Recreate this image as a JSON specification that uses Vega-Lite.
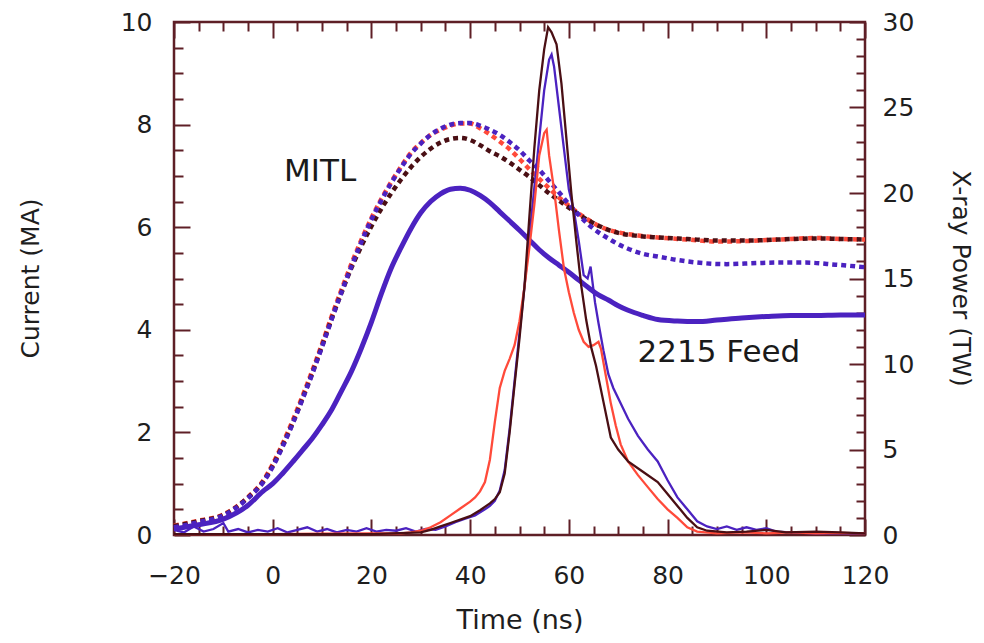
{
  "$schema": "https://vega.github.io/schema/vega-lite/v6.json",
  "width": 691,
  "height": 513,
  "autosize": "none",
  "padding": {"left": 174, "top": 22, "right": 119, "bottom": 108},
  "background": "white",
  "config": {
    "view": {"stroke": "#5e1f26", "strokeWidth": 2.5},
    "font": "DejaVu Sans",
    "axis": {"grid": false, "domain": false, "tickColor": "#5e1f26", "tickWidth": 2, "labelColor": "#1e1e1e", "titleColor": "#1e1e1e", "labelFont": "DejaVu Sans", "titleFont": "DejaVu Sans", "labelFontSize": 25, "titleFontSize": 25, "titleFontWeight": "normal", "labelFlush": false, "labelOverlap": false}
  },
  "datasets": {
    "cur": [
      {"series":"MITL shot 1","t":-20,"I":0.18},{"series":"MITL shot 1","t":-15,"I":0.28},{"series":"MITL shot 1","t":-10,"I":0.40},{"series":"MITL shot 1","t":-5,"I":0.74},{"series":"MITL shot 1","t":-2,"I":1.05},{"series":"MITL shot 1","t":0,"I":1.38},{"series":"MITL shot 1","t":2,"I":1.78},{"series":"MITL shot 1","t":4,"I":2.22},{"series":"MITL shot 1","t":6,"I":2.70},{"series":"MITL shot 1","t":8,"I":3.20},{"series":"MITL shot 1","t":10,"I":3.73},{"series":"MITL shot 1","t":12,"I":4.28},{"series":"MITL shot 1","t":14,"I":4.80},{"series":"MITL shot 1","t":16,"I":5.30},{"series":"MITL shot 1","t":18,"I":5.76},{"series":"MITL shot 1","t":20,"I":6.18},{"series":"MITL shot 1","t":22,"I":6.55},{"series":"MITL shot 1","t":24,"I":6.88},{"series":"MITL shot 1","t":26,"I":7.18},{"series":"MITL shot 1","t":28,"I":7.45},{"series":"MITL shot 1","t":30,"I":7.64},{"series":"MITL shot 1","t":32,"I":7.80},{"series":"MITL shot 1","t":34,"I":7.90},{"series":"MITL shot 1","t":36,"I":7.98},{"series":"MITL shot 1","t":38,"I":8.02},{"series":"MITL shot 1","t":40,"I":8.02},{"series":"MITL shot 1","t":42,"I":7.93},{"series":"MITL shot 1","t":44,"I":7.81},{"series":"MITL shot 1","t":46,"I":7.67},{"series":"MITL shot 1","t":48,"I":7.52},{"series":"MITL shot 1","t":50,"I":7.33},{"series":"MITL shot 1","t":52,"I":7.13},{"series":"MITL shot 1","t":54,"I":6.94},{"series":"MITL shot 1","t":56,"I":6.76},{"series":"MITL shot 1","t":58,"I":6.58},{"series":"MITL shot 1","t":60,"I":6.42},{"series":"MITL shot 1","t":62,"I":6.27},{"series":"MITL shot 1","t":64,"I":6.14},{"series":"MITL shot 1","t":66,"I":6.03},{"series":"MITL shot 1","t":68,"I":5.95},{"series":"MITL shot 1","t":70,"I":5.90},{"series":"MITL shot 1","t":74,"I":5.84},{"series":"MITL shot 1","t":78,"I":5.80},{"series":"MITL shot 1","t":84,"I":5.76},{"series":"MITL shot 1","t":90,"I":5.72},{"series":"MITL shot 1","t":96,"I":5.73},{"series":"MITL shot 1","t":100,"I":5.75},{"series":"MITL shot 1","t":105,"I":5.77},{"series":"MITL shot 1","t":110,"I":5.79},{"series":"MITL shot 1","t":115,"I":5.77},{"series":"MITL shot 1","t":120,"I":5.76},
      {"series":"MITL shot 3","t":-20,"I":0.17},{"series":"MITL shot 3","t":-15,"I":0.27},{"series":"MITL shot 3","t":-10,"I":0.39},{"series":"MITL shot 3","t":-5,"I":0.73},{"series":"MITL shot 3","t":-2,"I":1.03},{"series":"MITL shot 3","t":0,"I":1.35},{"series":"MITL shot 3","t":2,"I":1.74},{"series":"MITL shot 3","t":4,"I":2.17},{"series":"MITL shot 3","t":6,"I":2.65},{"series":"MITL shot 3","t":8,"I":3.15},{"series":"MITL shot 3","t":10,"I":3.68},{"series":"MITL shot 3","t":12,"I":4.23},{"series":"MITL shot 3","t":14,"I":4.74},{"series":"MITL shot 3","t":16,"I":5.22},{"series":"MITL shot 3","t":18,"I":5.64},{"series":"MITL shot 3","t":20,"I":6.02},{"series":"MITL shot 3","t":22,"I":6.36},{"series":"MITL shot 3","t":24,"I":6.66},{"series":"MITL shot 3","t":26,"I":6.93},{"series":"MITL shot 3","t":28,"I":7.17},{"series":"MITL shot 3","t":30,"I":7.37},{"series":"MITL shot 3","t":32,"I":7.53},{"series":"MITL shot 3","t":34,"I":7.65},{"series":"MITL shot 3","t":36,"I":7.72},{"series":"MITL shot 3","t":38,"I":7.74},{"series":"MITL shot 3","t":40,"I":7.70},{"series":"MITL shot 3","t":42,"I":7.60},{"series":"MITL shot 3","t":44,"I":7.48},{"series":"MITL shot 3","t":46,"I":7.38},{"series":"MITL shot 3","t":48,"I":7.26},{"series":"MITL shot 3","t":50,"I":7.12},{"series":"MITL shot 3","t":52,"I":6.98},{"series":"MITL shot 3","t":54,"I":6.82},{"series":"MITL shot 3","t":56,"I":6.66},{"series":"MITL shot 3","t":58,"I":6.52},{"series":"MITL shot 3","t":60,"I":6.38},{"series":"MITL shot 3","t":62,"I":6.25},{"series":"MITL shot 3","t":64,"I":6.13},{"series":"MITL shot 3","t":66,"I":6.03},{"series":"MITL shot 3","t":68,"I":5.95},{"series":"MITL shot 3","t":70,"I":5.89},{"series":"MITL shot 3","t":74,"I":5.83},{"series":"MITL shot 3","t":78,"I":5.80},{"series":"MITL shot 3","t":84,"I":5.77},{"series":"MITL shot 3","t":90,"I":5.74},{"series":"MITL shot 3","t":96,"I":5.74},{"series":"MITL shot 3","t":100,"I":5.75},{"series":"MITL shot 3","t":105,"I":5.77},{"series":"MITL shot 3","t":110,"I":5.78},{"series":"MITL shot 3","t":115,"I":5.77},{"series":"MITL shot 3","t":120,"I":5.76},
      {"series":"MITL shot 2","t":-20,"I":0.15},{"series":"MITL shot 2","t":-15,"I":0.25},{"series":"MITL shot 2","t":-10,"I":0.38},{"series":"MITL shot 2","t":-5,"I":0.72},{"series":"MITL shot 2","t":-2,"I":1.02},{"series":"MITL shot 2","t":0,"I":1.33},{"series":"MITL shot 2","t":2,"I":1.72},{"series":"MITL shot 2","t":4,"I":2.16},{"series":"MITL shot 2","t":6,"I":2.64},{"series":"MITL shot 2","t":8,"I":3.14},{"series":"MITL shot 2","t":10,"I":3.67},{"series":"MITL shot 2","t":12,"I":4.22},{"series":"MITL shot 2","t":14,"I":4.75},{"series":"MITL shot 2","t":16,"I":5.25},{"series":"MITL shot 2","t":18,"I":5.72},{"series":"MITL shot 2","t":20,"I":6.15},{"series":"MITL shot 2","t":22,"I":6.52},{"series":"MITL shot 2","t":24,"I":6.86},{"series":"MITL shot 2","t":26,"I":7.16},{"series":"MITL shot 2","t":28,"I":7.43},{"series":"MITL shot 2","t":30,"I":7.63},{"series":"MITL shot 2","t":32,"I":7.80},{"series":"MITL shot 2","t":34,"I":7.92},{"series":"MITL shot 2","t":36,"I":8.00},{"series":"MITL shot 2","t":38,"I":8.03},{"series":"MITL shot 2","t":40,"I":8.03},{"series":"MITL shot 2","t":42,"I":7.98},{"series":"MITL shot 2","t":44,"I":7.90},{"series":"MITL shot 2","t":46,"I":7.80},{"series":"MITL shot 2","t":48,"I":7.66},{"series":"MITL shot 2","t":50,"I":7.50},{"series":"MITL shot 2","t":52,"I":7.30},{"series":"MITL shot 2","t":54,"I":7.12},{"series":"MITL shot 2","t":56,"I":6.90},{"series":"MITL shot 2","t":58,"I":6.68},{"series":"MITL shot 2","t":60,"I":6.45},{"series":"MITL shot 2","t":62,"I":6.24},{"series":"MITL shot 2","t":64,"I":6.05},{"series":"MITL shot 2","t":66,"I":5.90},{"series":"MITL shot 2","t":68,"I":5.78},{"series":"MITL shot 2","t":70,"I":5.67},{"series":"MITL shot 2","t":72,"I":5.58},{"series":"MITL shot 2","t":75,"I":5.48},{"series":"MITL shot 2","t":78,"I":5.43},{"series":"MITL shot 2","t":82,"I":5.36},{"series":"MITL shot 2","t":86,"I":5.31},{"series":"MITL shot 2","t":92,"I":5.28},{"series":"MITL shot 2","t":98,"I":5.30},{"series":"MITL shot 2","t":102,"I":5.31},{"series":"MITL shot 2","t":108,"I":5.31},{"series":"MITL shot 2","t":114,"I":5.27},{"series":"MITL shot 2","t":120,"I":5.22},
      {"series":"2215 Feed","t":-20,"I":0.12},{"series":"2215 Feed","t":-15,"I":0.20},{"series":"2215 Feed","t":-10,"I":0.31},{"series":"2215 Feed","t":-5,"I":0.58},{"series":"2215 Feed","t":-2,"I":0.85},{"series":"2215 Feed","t":0,"I":1.00},{"series":"2215 Feed","t":2,"I":1.20},{"series":"2215 Feed","t":4,"I":1.42},{"series":"2215 Feed","t":6,"I":1.65},{"series":"2215 Feed","t":8,"I":1.88},{"series":"2215 Feed","t":10,"I":2.15},{"series":"2215 Feed","t":12,"I":2.45},{"series":"2215 Feed","t":14,"I":2.82},{"series":"2215 Feed","t":16,"I":3.20},{"series":"2215 Feed","t":18,"I":3.65},{"series":"2215 Feed","t":20,"I":4.15},{"series":"2215 Feed","t":22,"I":4.70},{"series":"2215 Feed","t":24,"I":5.20},{"series":"2215 Feed","t":26,"I":5.60},{"series":"2215 Feed","t":28,"I":5.97},{"series":"2215 Feed","t":30,"I":6.28},{"series":"2215 Feed","t":32,"I":6.50},{"series":"2215 Feed","t":34,"I":6.65},{"series":"2215 Feed","t":36,"I":6.74},{"series":"2215 Feed","t":38,"I":6.76},{"series":"2215 Feed","t":40,"I":6.72},{"series":"2215 Feed","t":42,"I":6.62},{"series":"2215 Feed","t":44,"I":6.48},{"series":"2215 Feed","t":46,"I":6.30},{"series":"2215 Feed","t":48,"I":6.12},{"series":"2215 Feed","t":50,"I":5.94},{"series":"2215 Feed","t":52,"I":5.75},{"series":"2215 Feed","t":54,"I":5.56},{"series":"2215 Feed","t":56,"I":5.40},{"series":"2215 Feed","t":58,"I":5.26},{"series":"2215 Feed","t":60,"I":5.12},{"series":"2215 Feed","t":62,"I":4.97},{"series":"2215 Feed","t":64,"I":4.82},{"series":"2215 Feed","t":66,"I":4.68},{"series":"2215 Feed","t":68,"I":4.58},{"series":"2215 Feed","t":70,"I":4.47},{"series":"2215 Feed","t":72,"I":4.38},{"series":"2215 Feed","t":75,"I":4.28},{"series":"2215 Feed","t":78,"I":4.20},{"series":"2215 Feed","t":82,"I":4.17},{"series":"2215 Feed","t":86,"I":4.16},{"series":"2215 Feed","t":90,"I":4.19},{"series":"2215 Feed","t":95,"I":4.23},{"series":"2215 Feed","t":100,"I":4.26},{"series":"2215 Feed","t":105,"I":4.28},{"series":"2215 Feed","t":110,"I":4.28},{"series":"2215 Feed","t":115,"I":4.29},{"series":"2215 Feed","t":120,"I":4.29}
    ],
    "pow": [
      {"series":"X-ray shot 2","t":-20,"P":0.3},{"series":"X-ray shot 2","t":-18,"P":0.15},{"series":"X-ray shot 2","t":-16,"P":0.5},{"series":"X-ray shot 2","t":-14,"P":0.2},{"series":"X-ray shot 2","t":-12,"P":0.35},{"series":"X-ray shot 2","t":-10,"P":0.7},{"series":"X-ray shot 2","t":-9,"P":0.2},{"series":"X-ray shot 2","t":-7,"P":0.35},{"series":"X-ray shot 2","t":-5,"P":0.15},{"series":"X-ray shot 2","t":-3,"P":0.3},{"series":"X-ray shot 2","t":-1,"P":0.2},{"series":"X-ray shot 2","t":1,"P":0.4},{"series":"X-ray shot 2","t":3,"P":0.15},{"series":"X-ray shot 2","t":5,"P":0.3},{"series":"X-ray shot 2","t":7,"P":0.45},{"series":"X-ray shot 2","t":9,"P":0.2},{"series":"X-ray shot 2","t":11,"P":0.35},{"series":"X-ray shot 2","t":13,"P":0.15},{"series":"X-ray shot 2","t":15,"P":0.3},{"series":"X-ray shot 2","t":17,"P":0.2},{"series":"X-ray shot 2","t":19,"P":0.4},{"series":"X-ray shot 2","t":21,"P":0.2},{"series":"X-ray shot 2","t":23,"P":0.3},{"series":"X-ray shot 2","t":25,"P":0.25},{"series":"X-ray shot 2","t":27,"P":0.4},{"series":"X-ray shot 2","t":29,"P":0.2},{"series":"X-ray shot 2","t":31,"P":0.35},{"series":"X-ray shot 2","t":33,"P":0.3},{"series":"X-ray shot 2","t":35,"P":0.5},{"series":"X-ray shot 2","t":37,"P":0.75},{"series":"X-ray shot 2","t":39,"P":0.95},{"series":"X-ray shot 2","t":41,"P":1.15},{"series":"X-ray shot 2","t":43,"P":1.5},{"series":"X-ray shot 2","t":44,"P":1.7},{"series":"X-ray shot 2","t":45,"P":2.0},{"series":"X-ray shot 2","t":46,"P":2.6},{"series":"X-ray shot 2","t":47,"P":3.8},{"series":"X-ray shot 2","t":48,"P":6.2},{"series":"X-ray shot 2","t":49,"P":9.0},{"series":"X-ray shot 2","t":50,"P":11.8},{"series":"X-ray shot 2","t":51,"P":14.5},{"series":"X-ray shot 2","t":52,"P":17.4},{"series":"X-ray shot 2","t":53,"P":20.3},{"series":"X-ray shot 2","t":54,"P":23.2},{"series":"X-ray shot 2","t":55,"P":26.0},{"series":"X-ray shot 2","t":56,"P":27.8},{"series":"X-ray shot 2","t":56.5,"P":28.1},{"series":"X-ray shot 2","t":57,"P":27.4},{"series":"X-ray shot 2","t":58,"P":25.0},{"series":"X-ray shot 2","t":59,"P":22.6},{"series":"X-ray shot 2","t":60,"P":20.2},{"series":"X-ray shot 2","t":61,"P":19.0},{"series":"X-ray shot 2","t":62,"P":17.2},{"series":"X-ray shot 2","t":63,"P":15.2},{"series":"X-ray shot 2","t":63.8,"P":15.0},{"series":"X-ray shot 2","t":64.4,"P":15.7},{"series":"X-ray shot 2","t":65.3,"P":13.6},{"series":"X-ray shot 2","t":66,"P":12.4},{"series":"X-ray shot 2","t":67,"P":10.8},{"series":"X-ray shot 2","t":68,"P":9.4},{"series":"X-ray shot 2","t":69,"P":8.6},{"series":"X-ray shot 2","t":70,"P":8.0},{"series":"X-ray shot 2","t":72,"P":6.8},{"series":"X-ray shot 2","t":74,"P":5.8},{"series":"X-ray shot 2","t":76,"P":5.0},{"series":"X-ray shot 2","t":78,"P":4.3},{"series":"X-ray shot 2","t":80,"P":3.2},{"series":"X-ray shot 2","t":82,"P":2.2},{"series":"X-ray shot 2","t":84,"P":1.5},{"series":"X-ray shot 2","t":86,"P":0.8},{"series":"X-ray shot 2","t":88,"P":0.5},{"series":"X-ray shot 2","t":90,"P":0.35},{"series":"X-ray shot 2","t":92,"P":0.5},{"series":"X-ray shot 2","t":94,"P":0.3},{"series":"X-ray shot 2","t":96,"P":0.45},{"series":"X-ray shot 2","t":98,"P":0.3},{"series":"X-ray shot 2","t":100,"P":0.4},{"series":"X-ray shot 2","t":102,"P":0.2},{"series":"X-ray shot 2","t":105,"P":0.15},{"series":"X-ray shot 2","t":110,"P":0.1},{"series":"X-ray shot 2","t":120,"P":0.1},
      {"series":"X-ray shot 1","t":-20,"P":0.05},{"series":"X-ray shot 1","t":-10,"P":0.05},{"series":"X-ray shot 1","t":0,"P":0.05},{"series":"X-ray shot 1","t":10,"P":0.08},{"series":"X-ray shot 1","t":20,"P":0.1},{"series":"X-ray shot 1","t":26,"P":0.1},{"series":"X-ray shot 1","t":28,"P":0.15},{"series":"X-ray shot 1","t":30,"P":0.25},{"series":"X-ray shot 1","t":32,"P":0.45},{"series":"X-ray shot 1","t":34,"P":0.75},{"series":"X-ray shot 1","t":36,"P":1.15},{"series":"X-ray shot 1","t":38,"P":1.55},{"series":"X-ray shot 1","t":40,"P":1.95},{"series":"X-ray shot 1","t":41,"P":2.2},{"series":"X-ray shot 1","t":42,"P":2.55},{"series":"X-ray shot 1","t":43,"P":3.1},{"series":"X-ray shot 1","t":44,"P":4.4},{"series":"X-ray shot 1","t":45,"P":6.6},{"series":"X-ray shot 1","t":46,"P":8.6},{"series":"X-ray shot 1","t":47,"P":9.6},{"series":"X-ray shot 1","t":48,"P":10.3},{"series":"X-ray shot 1","t":49,"P":11.1},{"series":"X-ray shot 1","t":50,"P":12.5},{"series":"X-ray shot 1","t":51,"P":14.5},{"series":"X-ray shot 1","t":52,"P":16.8},{"series":"X-ray shot 1","t":53,"P":19.3},{"series":"X-ray shot 1","t":54,"P":22.2},{"series":"X-ray shot 1","t":55,"P":23.5},{"series":"X-ray shot 1","t":55.5,"P":23.7},{"series":"X-ray shot 1","t":56,"P":22.2},{"series":"X-ray shot 1","t":57,"P":20.2},{"series":"X-ray shot 1","t":58,"P":17.8},{"series":"X-ray shot 1","t":59,"P":15.6},{"series":"X-ray shot 1","t":60,"P":14.2},{"series":"X-ray shot 1","t":61,"P":13.0},{"series":"X-ray shot 1","t":62,"P":12.0},{"series":"X-ray shot 1","t":63,"P":11.3},{"series":"X-ray shot 1","t":64,"P":11.0},{"series":"X-ray shot 1","t":65,"P":11.1},{"series":"X-ray shot 1","t":66,"P":11.3},{"series":"X-ray shot 1","t":66.5,"P":10.9},{"series":"X-ray shot 1","t":67.5,"P":9.3},{"series":"X-ray shot 1","t":68.5,"P":7.7},{"series":"X-ray shot 1","t":69.5,"P":6.4},{"series":"X-ray shot 1","t":70.5,"P":5.3},{"series":"X-ray shot 1","t":72,"P":4.3},{"series":"X-ray shot 1","t":74,"P":3.5},{"series":"X-ray shot 1","t":76,"P":2.8},{"series":"X-ray shot 1","t":78,"P":2.1},{"series":"X-ray shot 1","t":80,"P":1.5},{"series":"X-ray shot 1","t":82,"P":1.0},{"series":"X-ray shot 1","t":84,"P":0.45},{"series":"X-ray shot 1","t":86,"P":0.2},{"series":"X-ray shot 1","t":90,"P":0.1},{"series":"X-ray shot 1","t":95,"P":0.15},{"series":"X-ray shot 1","t":100,"P":0.1},{"series":"X-ray shot 1","t":105,"P":0.15},{"series":"X-ray shot 1","t":110,"P":0.1},{"series":"X-ray shot 1","t":115,"P":0.12},{"series":"X-ray shot 1","t":120,"P":0.1},
      {"series":"X-ray shot 3","t":-20,"P":0.05},{"series":"X-ray shot 3","t":0,"P":0.05},{"series":"X-ray shot 3","t":20,"P":0.05},{"series":"X-ray shot 3","t":30,"P":0.15},{"series":"X-ray shot 3","t":32,"P":0.3},{"series":"X-ray shot 3","t":34,"P":0.5},{"series":"X-ray shot 3","t":36,"P":0.7},{"series":"X-ray shot 3","t":38,"P":0.9},{"series":"X-ray shot 3","t":40,"P":1.1},{"series":"X-ray shot 3","t":42,"P":1.45},{"series":"X-ray shot 3","t":44,"P":1.85},{"series":"X-ray shot 3","t":45,"P":2.1},{"series":"X-ray shot 3","t":46,"P":2.5},{"series":"X-ray shot 3","t":47,"P":3.6},{"series":"X-ray shot 3","t":48,"P":6.0},{"series":"X-ray shot 3","t":49,"P":8.8},{"series":"X-ray shot 3","t":50,"P":11.5},{"series":"X-ray shot 3","t":51,"P":14.5},{"series":"X-ray shot 3","t":52,"P":18.6},{"series":"X-ray shot 3","t":53,"P":22.6},{"series":"X-ray shot 3","t":54,"P":26.0},{"series":"X-ray shot 3","t":55,"P":28.4},{"series":"X-ray shot 3","t":55.8,"P":29.7},{"series":"X-ray shot 3","t":56.5,"P":29.4},{"series":"X-ray shot 3","t":57.5,"P":28.7},{"series":"X-ray shot 3","t":58.5,"P":26.4},{"series":"X-ray shot 3","t":59.5,"P":23.2},{"series":"X-ray shot 3","t":60.5,"P":20.0},{"series":"X-ray shot 3","t":61.5,"P":17.2},{"series":"X-ray shot 3","t":62.5,"P":14.6},{"series":"X-ray shot 3","t":63.5,"P":12.6},{"series":"X-ray shot 3","t":64.5,"P":11.0},{"series":"X-ray shot 3","t":65.5,"P":9.9},{"series":"X-ray shot 3","t":67,"P":7.8},{"series":"X-ray shot 3","t":68.5,"P":5.7},{"series":"X-ray shot 3","t":70,"P":5.0},{"series":"X-ray shot 3","t":72,"P":4.3},{"series":"X-ray shot 3","t":75,"P":3.7},{"series":"X-ray shot 3","t":78,"P":3.1},{"series":"X-ray shot 3","t":80,"P":2.4},{"series":"X-ray shot 3","t":82,"P":1.7},{"series":"X-ray shot 3","t":84,"P":1.0},{"series":"X-ray shot 3","t":86,"P":0.45},{"series":"X-ray shot 3","t":88,"P":0.25},{"series":"X-ray shot 3","t":92,"P":0.15},{"series":"X-ray shot 3","t":96,"P":0.2},{"series":"X-ray shot 3","t":100,"P":0.3},{"series":"X-ray shot 3","t":104,"P":0.15},{"series":"X-ray shot 3","t":110,"P":0.2},{"series":"X-ray shot 3","t":115,"P":0.15},{"series":"X-ray shot 3","t":120,"P":0.1}
    ],
    "notes": [
      {"label":"MITL","t":9.6,"P":21.2},
      {"label":"2215 Feed","t":90.4,"P":10.65}
    ]
  },
  "resolve": {"scale": {"x": "independent", "y": "independent", "color": "shared"}},
  "layer": [
    {
      "data": {"name": "cur"},
      "transform": [{"filter": "datum.series !== '2215 Feed'"}],
      "mark": {"type": "line", "strokeWidth": 4.5, "strokeDash": [5, 4], "interpolate": "monotone"},
      "encoding": {
        "x": {"field": "t", "type": "quantitative", "scale": {"domain": [-20, 120], "nice": false, "zero": false},
          "axis": {"orient": "bottom", "values": [-20, 0, 20, 40, 60, 80, 100, 120], "tickSize": -16, "labelPadding": 44, "title": "Time (ns)", "titleFontSize": 27, "titleX": 345.5, "titleY": 85, "titleAlign": "center", "titleBaseline": "middle", "titleAngle": 0}},
        "y": {"field": "I", "type": "quantitative", "scale": {"domain": [0, 10], "nice": false},
          "axis": {"orient": "left", "values": [0, 2, 4, 6, 8, 10], "tickSize": -16, "labelPadding": 38, "title": "Current (MA)", "titleX": -144, "titleY": 256, "titleAngle": -90, "titleAlign": "center", "titleBaseline": "middle"}},
        "color": {"field": "series", "type": "nominal", "legend": null,
          "scale": {"domain": ["MITL shot 1", "MITL shot 2", "MITL shot 3", "2215 Feed", "X-ray shot 1", "X-ray shot 2", "X-ray shot 3"],
                    "range": ["#ff4a3a", "#4b22c0", "#4a0f14", "#4b22c0", "#ff4a3a", "#4b22c0", "#4a0f14"]}},
        "order": {"field": "t", "type": "quantitative"}
      }
    },
    {
      "data": {"name": "cur"},
      "transform": [{"filter": "datum.series === '2215 Feed'"}],
      "mark": {"type": "line", "strokeWidth": 5, "interpolate": "monotone"},
      "encoding": {
        "x": {"field": "t", "type": "quantitative", "scale": {"domain": [-20, 120], "nice": false, "zero": false},
          "axis": {"orient": "bottom", "values": [-15, -10, -5, 5, 10, 15, 25, 30, 35, 45, 50, 55, 65, 70, 75, 85, 90, 95, 105, 110, 115], "tickSize": -9, "labels": false, "title": null}},
        "y": {"field": "I", "type": "quantitative", "scale": {"domain": [0, 10], "nice": false},
          "axis": {"orient": "left", "values": [0.5, 1, 1.5, 2.5, 3, 3.5, 4.5, 5, 5.5, 6.5, 7, 7.5, 8.5, 9, 9.5], "tickSize": -9, "labels": false, "title": null}},
        "color": {"field": "series", "type": "nominal", "legend": null}
      }
    },
    {
      "data": {"name": "pow"},
      "mark": {"type": "line", "strokeWidth": 2.3},
      "encoding": {
        "x": {"field": "t", "type": "quantitative", "scale": {"domain": [-20, 120], "nice": false, "zero": false},
          "axis": {"orient": "top", "values": [-20, 0, 20, 40, 60, 80, 100, 120], "tickSize": -16, "labels": false, "title": null}},
        "y": {"field": "P", "type": "quantitative", "scale": {"domain": [0, 30], "nice": false},
          "axis": {"orient": "right", "values": [0, 5, 10, 15, 20, 25, 30], "tickSize": -16, "labelPadding": 33, "title": "X-ray Power (TW)", "titleX": 95, "titleY": 256, "titleAngle": 90, "titleAlign": "center", "titleBaseline": "middle"}},
        "color": {"field": "series", "type": "nominal", "legend": null},
        "order": {"field": "t", "type": "quantitative"}
      }
    },
    {
      "data": {"name": "notes"},
      "mark": {"type": "text", "fontSize": 31, "font": "DejaVu Sans", "color": "#1a1a1a", "align": "center", "baseline": "middle"},
      "encoding": {
        "x": {"field": "t", "type": "quantitative", "scale": {"domain": [-20, 120], "nice": false, "zero": false},
          "axis": {"orient": "top", "values": [-15, -10, -5, 5, 10, 15, 25, 30, 35, 45, 50, 55, 65, 70, 75, 85, 90, 95, 105, 110, 115], "tickSize": -9, "labels": false, "title": null}},
        "y": {"field": "P", "type": "quantitative", "scale": {"domain": [0, 30], "nice": false},
          "axis": {"orient": "right", "values": [1,2,3,4,6,7,8,9,11,12,13,14,16,17,18,19,21,22,23,24,26,27,28,29], "tickSize": -9, "labels": false, "title": null}},
        "text": {"field": "label", "type": "nominal"}
      }
    }
  ]
}
